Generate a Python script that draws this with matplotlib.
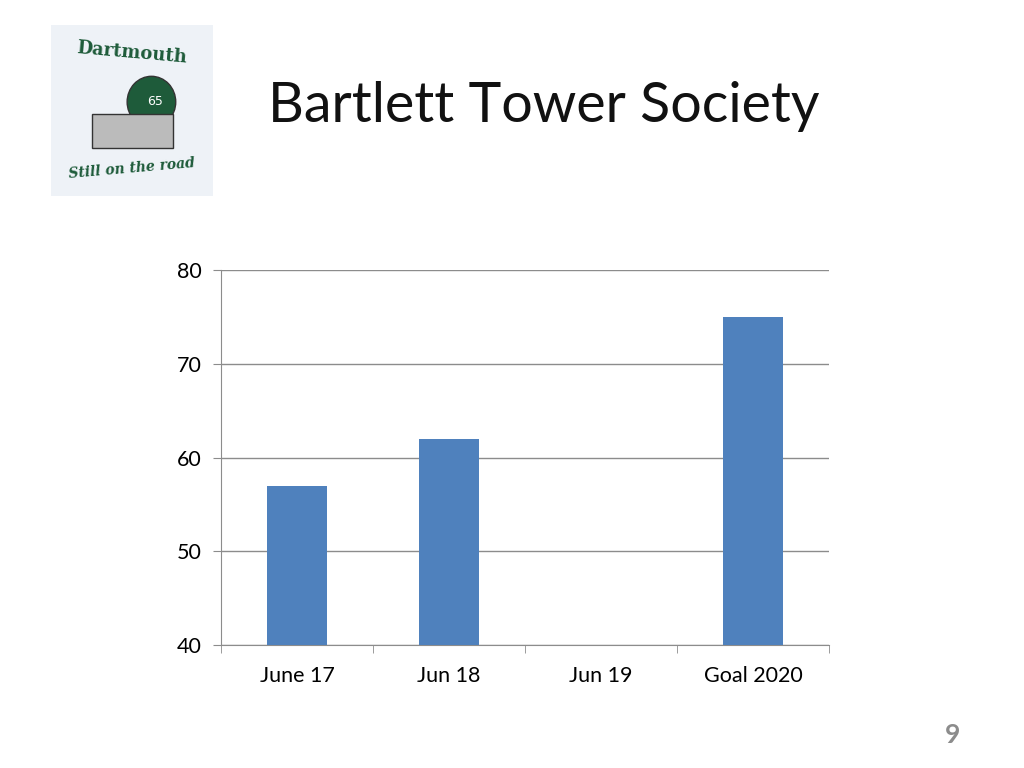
import matplotlib
matplotlib.use('Agg')
import matplotlib.pyplot as plt
import matplotlib.patches as patches
import numpy as np

categories = ["June 17", "Jun 18", "Jun 19", "Goal 2020"]
values = [57, 62, np.nan, 75]
yticks = [40, 50, 60, 70, 80]

BAR = "#4F81BD"
GRID = "#8C8C8C"
FONT = "Lato"

fig = plt.figure(figsize=(10.24, 7.68), dpi=100)
fig.patch.set_facecolor("white")

# logo placeholder (top left)
ax_logo = fig.add_axes([51/1024, 1-196/768, 162/1024, 171/768])
ax_logo.set_xlim(0, 1); ax_logo.set_ylim(0, 1)
ax_logo.axis('off')
ax_logo.add_patch(patches.Rectangle((0, 0), 1, 1, facecolor="#EEF2F7", edgecolor="none"))
ax_logo.text(0.5, 0.84, "Dartmouth", ha='center', va='center', fontsize=13,
             color="#1E5B3A", fontweight='bold', family="DejaVu Serif", rotation=-5)
ax_logo.add_patch(patches.Circle((0.62, 0.55), 0.15, facecolor="#1E5B3A", edgecolor="#333"))
ax_logo.text(0.64, 0.55, "65", ha='center', va='center', fontsize=9, color="white")
ax_logo.add_patch(patches.Rectangle((0.25, 0.28), 0.5, 0.2, facecolor="#BBBBBB", edgecolor="#333"))
ax_logo.text(0.5, 0.16, "Still on the road", ha='center', va='center', fontsize=10,
             color="#1E5B3A", fontweight='bold', family="DejaVu Serif", style='italic', rotation=5)

fig.text(268/1024, 1-107/768, "Bartlett Tower Society", fontsize=40, family=FONT,
         color="#111111", ha='left', va='center')
fig.text(953/1024, 1-735/768, "9", fontsize=19, family=FONT, fontweight='bold',
         color="#8C8C8C", ha='center', va='center')

ax = fig.add_axes([221/1024, 123/768, 608/1024, 375/768])
x = np.arange(len(categories))
ax.bar(x, values, width=0.4, color=BAR, zorder=3)
ax.set_xlim(-0.5, len(categories) - 0.5)
ax.set_ylim(40, 80)
ax.set_yticks(yticks)
ax.set_yticklabels([str(v) for v in yticks], fontsize=15.5, family=FONT)
ax.set_xticks(x)
ax.set_xticklabels(categories, fontsize=15.5, family=FONT)
ax.yaxis.grid(True, color=GRID, lw=1, zorder=0)
for s in ['top', 'right']:
    ax.spines[s].set_visible(False)
for s in ['left', 'bottom']:
    ax.spines[s].set_color(GRID)
ax.tick_params(axis='x', length=0, pad=15)
ax.tick_params(axis='y', length=6, color=GRID, pad=8)
ax.set_xticks(np.arange(-0.5, len(categories)), minor=True)
ax.tick_params(axis='x', which='minor', length=6, color=GRID)

fig.savefig("out.png", dpi=100, facecolor="white")
